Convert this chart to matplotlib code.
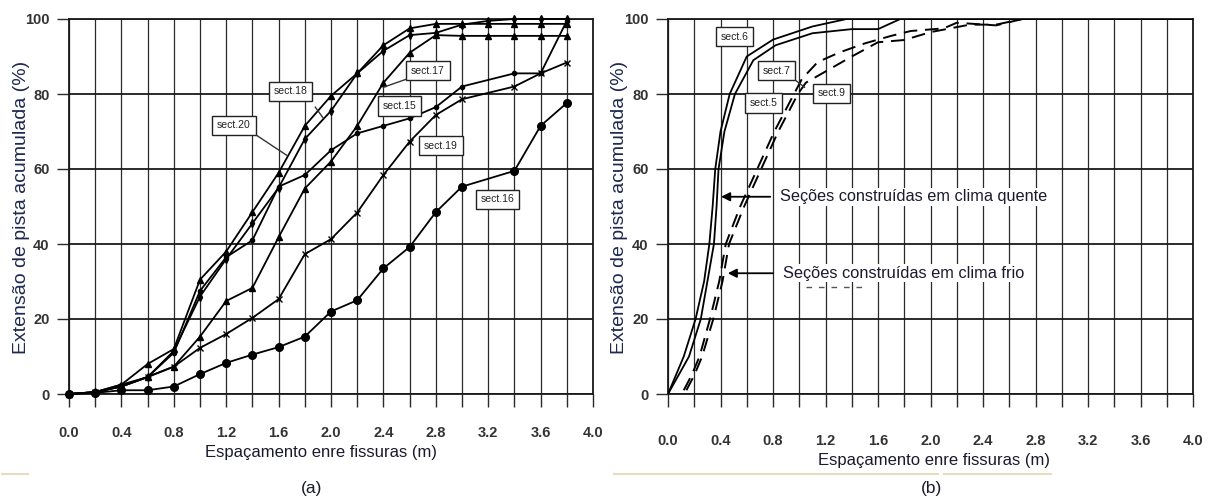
import numpy as np
import matplotlib
matplotlib.use("Agg")
import matplotlib.pyplot as plt

# =========================
# (a) sections 15-20
# =========================
grid_x = [0.0, 0.2, 0.4, 0.6, 0.8, 1.0, 1.2, 1.4, 1.6, 1.8, 2.0,
          2.2, 2.4, 2.6, 2.8, 3.0, 3.2, 3.4, 3.6, 3.8]
skip_x = [0.0, 0.2, 0.4, 0.6, 0.8, 1.0, 1.2, 1.4, 1.6, 1.8, 2.0,
          2.2, 2.4, 2.6, 2.8, 3.0, 3.4, 3.6, 3.8]

sect20_y = [0, 0.5, 2.5, 8, 12, 30.5, 38, 48.5, 59, 71.5, 79.5,
            85.5, 93, 97.5, 98.7, 98.7, 98.7, 98.7, 98.7, 98.7]
sect18_y = [0, 0.5, 2, 4.5, 11.5, 26, 36, 45.5, 55, 68, 75.5,
            85.5, 91.5, 95.7, 96.3, 98.5, 99.5, 100, 100, 100]
sect17_y = [0, 0.5, 2, 4.6, 7.3, 15.3, 24.8, 28.3, 41.8, 54.8, 62,
            71.5, 83, 91, 95.7, 95.5, 95.5, 95.5, 95.5, 95.5]
sect15_y = [0, 0.5, 2.5, 4.5, 11, 27.5, 36.5, 41, 55.3, 58.4, 65,
            69.5, 71.5, 73.5, 76.5, 82, 85.5, 85.5, 99.5]
sect19_y = [0, 0.5, 2, 4.5, 7.3, 12.3, 16, 20.3, 25.3, 37.3, 41.3,
            48.4, 58.4, 67.3, 74.4, 78.6, 82, 85.5, 88.4]
sect16_y = [0, 0.3, 1, 1, 2, 5.3, 8.3, 10.5, 12.5, 15.3, 22,
            25, 33.5, 39.2, 48.5, 55.3, 59.5, 71.5, 77.6]

# label boxes: (text, x, y)
labels_a = [("sect.18", 1.69, 80.7), ("sect.20", 1.26, 71.6),
            ("sect.17", 2.74, 86.2), ("sect.15", 2.52, 76.8),
            ("sect.19", 2.84, 66.2), ("sect.16", 3.27, 51.9)]

# =========================
# (b) sections 5, 6, 7, 9
# =========================
sect6_x = [0, 0.12, 0.21, 0.275, 0.315, 0.34, 0.36, 0.40, 0.47, 0.60,
           0.80, 1.10, 1.36, 2.0, 4.0]
sect6_y = [0, 10, 20, 30, 40, 50, 60, 70, 80, 90,
           94.5, 98, 100, 100, 100]
sect7_x = [0, 0.16, 0.25, 0.30, 0.35, 0.37, 0.385, 0.43, 0.51, 0.65,
           0.82, 1.10, 1.40, 1.60, 1.77, 4.0]
sect7_y = [0, 10, 20, 30, 40, 50, 60, 70, 80, 89,
           93, 96.2, 97.3, 97.3, 100, 100]
sect5_x = [0.12, 0.18, 0.24, 0.32, 0.39, 0.44, 0.55, 0.68, 0.81, 0.96,
           1.02, 1.14, 1.30, 1.50, 1.70, 1.85, 2.10, 2.20, 2.50, 2.70, 4.0]
sect5_y = [1, 5, 10, 20, 30, 40, 50, 60, 70, 80,
           84, 88.5, 91, 93.5, 95.5, 96.8, 97.5, 99, 98.3, 100, 100]
sect9_x = [0.14, 0.20, 0.26, 0.345, 0.415, 0.465, 0.58, 0.71, 0.84, 0.99,
           1.05, 1.20, 1.40, 1.60, 1.80, 2.00, 2.30, 2.50, 2.70, 4.0]
sect9_y = [1, 5, 10, 20, 30, 40, 50, 60, 70, 80,
           83, 86, 90, 93.8, 94.4, 96.5, 98.5, 98.5, 100, 100]

labels_b = [("sect.6", 0.507, 95.3), ("sect.7", 0.827, 86.2),
            ("sect.5", 0.725, 77.6), ("sect.9", 1.245, 80.2)]

x_title = "Espaçamento enre fissuras (m)"
y_title = "Extensão de pista acumulada (%)"
hot_text = "Seções construídas em clima quente"
cold_text = "Seções construídas em clima frio"

plt.rcParams["font.family"] = ["Liberation Sans", "DejaVu Sans"]
TXT = "#1a1a2e"

W, H = 1208, 500
fig = plt.figure(figsize=(W / 100, H / 100), dpi=100)
fig.patch.set_facecolor("white")

ax_a = fig.add_axes([69 / W, 106 / H, 524 / W, 375 / H])
ax_b = fig.add_axes([668 / W, 106 / H, 525 / W, 375 / H])


def style_axes(ax, xpad):
    ax.set_xlim(0, 4)
    ax.set_ylim(0, 100)
    ax.set_xticks(np.arange(0, 4.01, 0.4))
    ax.set_xticklabels([f"{v:.1f}" for v in np.arange(0, 4.01, 0.4)])
    ax.set_xticks(np.arange(0.2, 4.0, 0.4), minor=True)
    ax.set_yticks(range(0, 101, 20))
    ax.grid(which="both", axis="x", color="#2a2a2a", lw=0.9)
    ax.grid(which="major", axis="y", color="#1a1a1a", lw=1.3)
    ax.set_axisbelow(True)
    ax.tick_params(which="both", direction="out", length=9, width=1,
                   color="#2a2a2a")
    ax.tick_params(axis="x", pad=xpad)
    ax.tick_params(axis="y", pad=5)
    for lab in ax.get_xticklabels() + ax.get_yticklabels():
        lab.set_fontweight("bold")
        lab.set_fontsize(10.5)
        lab.set_color("#333333")
    for sp in ax.spines.values():
        sp.set_linewidth(1.3)
        sp.set_color("#1a1a1a")


def box_label(ax, text, x, y):
    ax.text(x, y, text, fontsize=7.5, color="#222222", ha="center", va="center",
            zorder=5,
            bbox=dict(boxstyle="square,pad=0.45", fc="white", ec="#222222", lw=1))


style_axes(ax_a, 14)
style_axes(ax_b, 20)

# ===== (a) curves =====
line_kw = dict(color="black", lw=1.3, clip_on=False, zorder=3)
ax_a.plot(grid_x, sect20_y, marker="^", ms=4, **line_kw)
ax_a.plot(grid_x, sect18_y, marker="d", ms=4, **line_kw)
ax_a.plot(grid_x, sect17_y, marker="^", ms=4, **line_kw)
ax_a.plot(skip_x, sect15_y, marker="o", ms=3, **line_kw)
ax_a.plot(skip_x, sect19_y, marker="x", ms=5, mew=1, **line_kw)
ax_a.plot(skip_x, sect16_y, marker="o", ms=5.5, **line_kw)

# leader lines
ax_a.plot([1.88, 1.94], [76.5, 73.6], color="#333333", lw=1, zorder=4)
ax_a.plot([1.405, 1.66], [69.6, 63.7], color="#333333", lw=1, zorder=4)
ax_a.plot([2.58, 2.40], [84.0, 81.8], color="#333333", lw=1, zorder=4)

for text, x, y in labels_a:
    box_label(ax_a, text, x, y)

# ===== (b) curves =====
ax_b.plot(sect6_x, sect6_y, color="black", lw=1.3, zorder=3)
ax_b.plot(sect7_x, sect7_y, color="black", lw=1.3, zorder=3)
ax_b.plot(sect5_x, sect5_y, color="black", lw=1.4, dashes=(7, 4), zorder=3)
ax_b.plot(sect9_x, sect9_y, color="black", lw=1.4, dashes=(7, 4), zorder=3)

ax_b.plot([0.97, 1.04], [83.7, 81.8], color="#333333", lw=1, zorder=4)
for text, x, y in labels_b:
    box_label(ax_b, text, x, y)

arrow_kw = dict(arrowstyle="-|>", color="black", lw=1.3, mutation_scale=13)
ax_b.annotate("", xy=(0.383, 52.6), xytext=(0.80, 52.6), arrowprops=arrow_kw,
              zorder=5)
ax_b.annotate("", xy=(0.434, 32.2), xytext=(0.82, 32.2), arrowprops=arrow_kw,
              zorder=5)
ax_b.text(0.85, 52.6, hot_text, fontsize=11.7, color=TXT,
          va="center", ha="left", zorder=5,
          bbox=dict(fc="white", ec="none", pad=1))
ax_b.text(0.875, 32.2, cold_text, fontsize=11.8, color=TXT,
          va="center", ha="left", zorder=5,
          bbox=dict(fc="white", ec="none", pad=1))
ax_b.plot([1.05, 1.5], [28.5, 28.5], color="#555555", lw=1, dashes=(4, 5),
          zorder=6)

# ===== axis titles and panel letters =====
fig.text(21.7 / W, 1 - 207.5 / H, y_title, rotation=90, fontsize=14,
         color="#1e2850", ha="center", va="center")
fig.text(620 / W, 1 - 207.5 / H, y_title, rotation=90, fontsize=14,
         color="#1e2850", ha="center", va="center")
fig.text(321 / W, 1 - 452 / H, x_title, fontsize=12,
         color=TXT, ha="center", va="center")
fig.text(934.5 / W, 1 - 461 / H, x_title, fontsize=12,
         color=TXT, ha="center", va="center")
fig.text(312 / W, 1 - 488 / H, "(a)", fontsize=12.5,
         color=TXT, ha="center", va="center")
fig.text(931 / W, 1 - 489 / H, "(b)", fontsize=12.5,
         color=TXT, ha="center", va="center")

# thin rules under the captions
for x0, x1 in [(2, 28), (614, 938), (944, 1051)]:
    fig.lines.append(plt.Line2D([x0 / W, x1 / W], [1 - 474 / H, 1 - 474 / H],
                                transform=fig.transFigure, color="#e6dcc4",
                                lw=1.5))

fig.savefig("out.png", dpi=100, facecolor="white")
